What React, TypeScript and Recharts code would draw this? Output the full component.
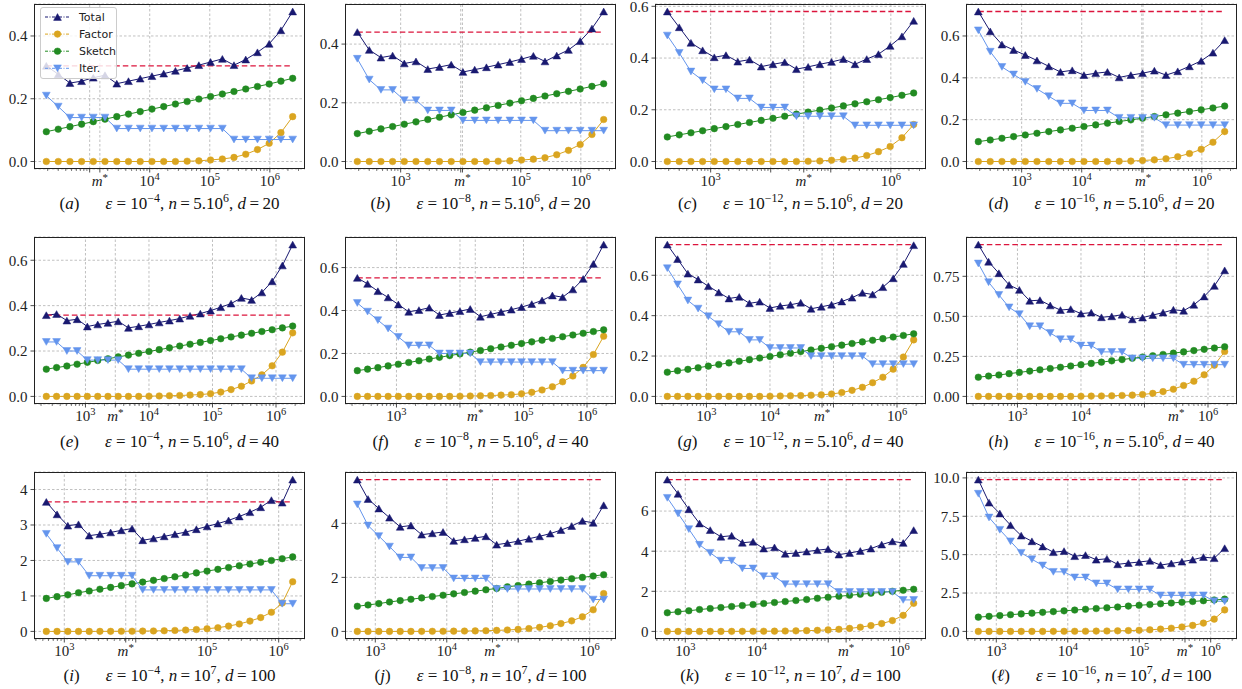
import React from 'react';
import { LineChart, Line, XAxis, YAxis, CartesianGrid, ReferenceLine } from 'recharts';

// sample sizes m on the x axis, one list per row of panels
const mRow1 = [190, 300, 470, 735, 1150, 1800, 2830, 4430, 6950, 10900, 17100, 26800, 42000, 65800, 103000, 162000, 253000, 397000, 622000, 975000, 1530000, 2400000];
const mRow2 = [242, 351, 510, 739, 1070, 1560, 2260, 3280, 4750, 6890, 10000, 14500, 21000, 30500, 44300, 64300, 93200, 135000, 196000, 285000, 413000, 599000, 870000, 1260000, 1830000];
const mRow3 = [560, 791, 1120, 1580, 2230, 3150, 4450, 6280, 8870, 12500, 17700, 25000, 35300, 49900, 70500, 99500, 141000, 199000, 281000, 396000, 560000, 791000, 1120000, 1570000];

// sketch / factor times are the same across a row
const sketchRow1 = [0.095, 0.103, 0.111, 0.119, 0.127, 0.135, 0.143, 0.151, 0.159, 0.167, 0.175, 0.183, 0.191, 0.199, 0.207, 0.215, 0.223, 0.231, 0.239, 0.247, 0.256, 0.265];
const factorRow1 = [0, 0, 0, 0, 0, 0, 0, 0, 0, 0, 0, 0, 0.001, 0.002, 0.005, 0.008, 0.013, 0.023, 0.038, 0.058, 0.092, 0.143];
const sketchRow2 = [0.12, 0.127, 0.134, 0.142, 0.15, 0.158, 0.166, 0.174, 0.182, 0.19, 0.198, 0.206, 0.214, 0.222, 0.23, 0.238, 0.246, 0.254, 0.262, 0.27, 0.278, 0.286, 0.294, 0.302, 0.31];
const factorRow2 = [0, 0, 0, 0, 0, 0, 0, 0, 0, 0, 0.001, 0.002, 0.003, 0.004, 0.006, 0.008, 0.012, 0.019, 0.03, 0.045, 0.068, 0.095, 0.135, 0.195, 0.28];
const sketchRow3 = [0.93, 0.98, 1.03, 1.09, 1.14, 1.19, 1.24, 1.29, 1.34, 1.39, 1.44, 1.49, 1.54, 1.59, 1.65, 1.7, 1.75, 1.8, 1.85, 1.9, 1.95, 2.0, 2.05, 2.1];
const factorRow3 = [0, 0, 0, 0, 0, 0.001, 0.002, 0.004, 0.006, 0.009, 0.013, 0.019, 0.027, 0.038, 0.053, 0.075, 0.105, 0.15, 0.21, 0.29, 0.39, 0.54, 0.8, 1.4];

// iteration / total times per panel
const iterA = [0.21, 0.175, 0.14, 0.14, 0.14, 0.14, 0.105, 0.105, 0.105, 0.105, 0.105, 0.105, 0.105, 0.105, 0.105, 0.105, 0.07, 0.07, 0.07, 0.07, 0.07, 0.07];
const totalA = [0.305, 0.278, 0.25, 0.256, 0.267, 0.275, 0.248, 0.256, 0.264, 0.272, 0.28, 0.289, 0.298, 0.307, 0.317, 0.327, 0.307, 0.325, 0.348, 0.375, 0.418, 0.478];
const iterB = [0.35, 0.279, 0.244, 0.244, 0.209, 0.209, 0.174, 0.174, 0.174, 0.14, 0.14, 0.14, 0.14, 0.14, 0.14, 0.14, 0.105, 0.105, 0.105, 0.105, 0.105, 0.105];
const totalB = [0.441, 0.38, 0.354, 0.361, 0.334, 0.341, 0.315, 0.322, 0.33, 0.305, 0.313, 0.321, 0.33, 0.339, 0.349, 0.36, 0.341, 0.361, 0.38, 0.41, 0.453, 0.511];
const iterC = [0.487, 0.42, 0.348, 0.314, 0.279, 0.279, 0.244, 0.244, 0.209, 0.209, 0.209, 0.175, 0.175, 0.175, 0.175, 0.175, 0.14, 0.14, 0.14, 0.14, 0.14, 0.14];
const totalC = [0.58, 0.519, 0.459, 0.43, 0.403, 0.411, 0.386, 0.394, 0.367, 0.376, 0.384, 0.357, 0.366, 0.376, 0.385, 0.396, 0.376, 0.396, 0.415, 0.447, 0.484, 0.544];
const iterD = [0.627, 0.525, 0.452, 0.416, 0.381, 0.347, 0.312, 0.278, 0.278, 0.244, 0.244, 0.244, 0.209, 0.209, 0.209, 0.209, 0.174, 0.174, 0.174, 0.174, 0.174, 0.174];
const totalD = [0.717, 0.622, 0.559, 0.533, 0.509, 0.483, 0.455, 0.428, 0.436, 0.413, 0.422, 0.428, 0.402, 0.413, 0.422, 0.434, 0.413, 0.431, 0.455, 0.481, 0.52, 0.58];

const iterE = [0.24, 0.24, 0.2, 0.2, 0.16, 0.16, 0.16, 0.16, 0.12, 0.12, 0.12, 0.12, 0.12, 0.12, 0.12, 0.12, 0.12, 0.12, 0.12, 0.12, 0.08, 0.08, 0.08, 0.08, 0.08];
const totalE = [0.358, 0.363, 0.334, 0.34, 0.308, 0.317, 0.324, 0.331, 0.302, 0.309, 0.317, 0.326, 0.334, 0.343, 0.355, 0.365, 0.378, 0.393, 0.409, 0.434, 0.425, 0.458, 0.507, 0.577, 0.669];
const iterF = [0.435, 0.395, 0.355, 0.316, 0.277, 0.238, 0.238, 0.238, 0.2, 0.2, 0.2, 0.2, 0.16, 0.16, 0.16, 0.16, 0.16, 0.16, 0.16, 0.16, 0.12, 0.12, 0.12, 0.12, 0.12];
const totalF = [0.552, 0.524, 0.49, 0.461, 0.428, 0.394, 0.402, 0.413, 0.379, 0.388, 0.397, 0.407, 0.371, 0.382, 0.393, 0.404, 0.416, 0.43, 0.447, 0.47, 0.462, 0.498, 0.547, 0.617, 0.707];
const iterG = [0.635, 0.555, 0.475, 0.435, 0.397, 0.358, 0.32, 0.32, 0.28, 0.28, 0.24, 0.24, 0.24, 0.24, 0.2, 0.2, 0.2, 0.2, 0.2, 0.2, 0.16, 0.16, 0.16, 0.16, 0.16];
const totalG = [0.752, 0.68, 0.608, 0.579, 0.546, 0.515, 0.485, 0.493, 0.461, 0.469, 0.438, 0.448, 0.454, 0.464, 0.434, 0.444, 0.454, 0.47, 0.489, 0.513, 0.505, 0.541, 0.585, 0.656, 0.749];
const iterH = [0.83, 0.713, 0.634, 0.556, 0.514, 0.438, 0.438, 0.396, 0.357, 0.357, 0.318, 0.318, 0.278, 0.278, 0.278, 0.238, 0.238, 0.238, 0.238, 0.238, 0.198, 0.198, 0.198, 0.198, 0.198];
const totalH = [0.948, 0.841, 0.769, 0.696, 0.665, 0.597, 0.601, 0.568, 0.539, 0.545, 0.517, 0.523, 0.494, 0.5, 0.51, 0.481, 0.492, 0.508, 0.523, 0.541, 0.535, 0.572, 0.624, 0.69, 0.787];

const iterI = [2.75, 2.35, 1.96, 1.96, 1.57, 1.57, 1.57, 1.57, 1.57, 1.17, 1.17, 1.17, 1.17, 1.17, 1.17, 1.17, 1.17, 1.17, 1.17, 1.17, 1.17, 1.17, 0.78, 0.78];
const totalI = [3.65, 3.3, 2.98, 3.02, 2.7, 2.74, 2.79, 2.85, 2.9, 2.57, 2.62, 2.68, 2.74, 2.8, 2.88, 2.96, 3.04, 3.13, 3.24, 3.36, 3.5, 3.7, 3.63, 4.28];
const iterJ = [4.7, 3.92, 3.53, 3.14, 2.74, 2.74, 2.35, 2.35, 2.35, 1.96, 1.96, 1.96, 1.96, 1.57, 1.57, 1.57, 1.57, 1.57, 1.57, 1.57, 1.57, 1.57, 1.18, 1.18];
const totalJ = [5.62, 4.9, 4.55, 4.21, 3.87, 3.92, 3.58, 3.63, 3.68, 3.35, 3.41, 3.46, 3.52, 3.21, 3.27, 3.34, 3.43, 3.52, 3.62, 3.75, 3.9, 4.09, 4.02, 4.67];
const iterK = [6.66, 5.88, 5.1, 4.32, 3.92, 3.53, 3.53, 3.14, 3.14, 2.75, 2.75, 2.36, 2.36, 2.36, 2.36, 2.36, 1.97, 1.97, 1.97, 1.97, 1.97, 1.97, 1.57, 1.57];
const totalK = [7.57, 6.86, 6.09, 5.38, 5.05, 4.72, 4.77, 4.42, 4.47, 4.13, 4.19, 3.87, 3.91, 3.98, 4.05, 4.11, 3.83, 3.91, 4.01, 4.13, 4.33, 4.49, 4.41, 5.05];
const iterL = [8.97, 7.42, 6.62, 5.87, 5.12, 4.7, 4.3, 3.88, 3.88, 3.52, 3.52, 3.13, 3.13, 2.74, 2.74, 2.74, 2.74, 2.35, 2.35, 2.35, 2.35, 2.35, 1.97, 1.96];
const totalL = [9.89, 8.39, 7.68, 6.92, 6.24, 5.87, 5.53, 5.16, 5.23, 4.9, 4.97, 4.67, 4.73, 4.37, 4.45, 4.52, 4.6, 4.32, 4.43, 4.54, 4.67, 4.84, 4.77, 5.42];

// m* tick position per panel, and decade labels that m* replaces
const mStars = [1480, 10700, 35500, 105000, 2950, 17400, 66100, 316000, 7240, 43600, 178000, 437000];
const hiddenDecades = [[1000], [10000], [10000, 100000], [100000], [], [10000], [100000], [100000], [10000], [100000], [100000], []];

const yTicksList = [
  [0, 0.2, 0.4], [0, 0.2, 0.4], [0, 0.2, 0.4, 0.6], [0, 0.2, 0.4, 0.6],
  [0, 0.2, 0.4, 0.6], [0, 0.2, 0.4, 0.6], [0, 0.2, 0.4, 0.6], [0, 0.25, 0.5, 0.75],
  [0, 1, 2, 3, 4], [0, 2, 4], [0, 2, 4, 6], [0, 2.5, 5, 7.5, 10],
];
const yDecimals = [1, 1, 1, 1, 1, 1, 1, 2, 0, 0, 0, 1];

const panelLabels = ['a', 'b', 'c', 'd', 'e', 'f', 'g', 'h', 'i', 'j', 'k', 'ℓ'];
const epsExp = ['−4', '−8', '−12', '−16'];
const nMantissa = ['5.10', '5.10', '10'];
const nExp = ['6', '6', '7'];
const dims = [20, 40, 100];

const C = {
  total: '#191970',
  factor: '#DAA520',
  sketch: '#228B22',
  iter: '#6495ED',
  ref: '#DC143C',
  grid: '#b0b0b0',
  ink: '#222',
};

const SERIF = '"Liberation Serif", "DejaVu Serif", serif';
const SANS = '"DejaVu Sans", "Liberation Sans", sans-serif';

const PLOT_LEFT = [34, 345, 655, 966];
const PLOT_TOP = [4, 237, 472];
const PLOT_HS = [165, 167, 167];
const CAPTION_BASE = [209, 447, 681];
const PLOT_W = 271;
const AXIS_W = 40;
const M_TOP = 8;
const M_RIGHT = 5;
const X_H = 26;

const rowX = [mRow1, mRow2, mRow3];
const rowSketch = [sketchRow1, sketchRow2, sketchRow3];
const rowFactor = [factorRow1, factorRow2, factorRow3];
const iters = [iterA, iterB, iterC, iterD, iterE, iterF, iterG, iterH, iterI, iterJ, iterK, iterL];
const totals = [totalA, totalB, totalC, totalD, totalE, totalF, totalG, totalH, totalI, totalJ, totalK, totalL];

const panels = panelLabels.map((label, i) => {
  const row = Math.floor(i / 4);
  return {
    label,
    row,
    col: i % 4,
    x: rowX[row],
    sketch: rowSketch[row],
    factor: rowFactor[row],
    iter: iters[i],
    total: totals[i],
    mStar: mStars[i],
    hide: hiddenDecades[i],
    yTicks: yTicksList[i],
    dec: yDecimals[i],
    eps: epsExp[i % 4],
    nMant: nMantissa[row],
    nExp: nExp[row],
    d: dims[row],
  };
});

type Shape = 'up' | 'down' | 'circle';

function Marker({ cx, cy, shape, color }: { cx?: number; cy?: number; shape: Shape; color: string }) {
  if (cx == null || cy == null || isNaN(cx) || isNaN(cy)) return null;
  if (shape === 'circle') {
    return <circle cx={cx} cy={cy} r={3.3} fill={color} stroke={color} strokeWidth={0.5} />;
  }
  const s = 3.9;
  const h = 3.4;
  const d =
    shape === 'up'
      ? `M${cx},${cy - h}L${cx + s},${cy + h}L${cx - s},${cy + h}Z`
      : `M${cx},${cy + h}L${cx + s},${cy - h}L${cx - s},${cy - h}Z`;
  return <path d={d} fill={color} stroke={color} strokeWidth={0.5} />;
}

function XTick(props: any) {
  const { x, y, payload, p } = props;
  const v = payload.value;
  const isStar = v === p.mStar;
  const e = Math.log10(v);
  const isDecade = !isStar && Math.abs(e - Math.round(e)) < 1e-6;
  const major = isStar || isDecade;
  let label = null;
  if (isStar) {
    label = (
      <text x={x} y={y + 17} textAnchor="middle" fontFamily={SERIF} fontSize={15} fill={C.ink}>
        <tspan fontStyle="italic">m</tspan>
        <tspan dy={-5} fontSize={11}>*</tspan>
      </text>
    );
  } else if (isDecade && !p.hide.includes(v)) {
    label = (
      <text x={x} y={y + 17} textAnchor="middle" fontFamily={SERIF} fontSize={15} fill={C.ink}>
        <tspan>10</tspan>
        <tspan dy={-6} fontSize={10.5}>{Math.round(e)}</tspan>
      </text>
    );
  }
  return (
    <g>
      <line x1={x} x2={x} y1={y} y2={y + (major ? 3.5 : 2)} stroke={C.ink} strokeWidth={major ? 0.8 : 0.6} />
      {label}
    </g>
  );
}

function Legend() {
  const items: { name: string; color: string; shape: Shape }[] = [
    { name: 'Total', color: C.total, shape: 'up' },
    { name: 'Factor', color: C.factor, shape: 'circle' },
    { name: 'Sketch', color: C.sketch, shape: 'circle' },
    { name: 'Iter.', color: C.iter, shape: 'down' },
  ];
  return (
    <div
      style={{
        position: 'absolute',
        left: 40,
        top: 7,
        width: 77,
        height: 72,
        background: 'rgba(255,255,255,0.82)',
        border: '1px solid #cccccc',
        borderRadius: 3,
        boxSizing: 'border-box',
      }}
    >
      <svg width={77} height={72} style={{ position: 'absolute', left: -1, top: -1 }}>
        {items.map((it, i) => {
          const cy = 10 + i * 17.1;
          return (
            <g key={it.name}>
              <line x1={5} x2={30} y1={cy} y2={cy} stroke={it.color} strokeWidth={1} strokeDasharray="3 1.5 1 1.5" />
              <Marker cx={17.5} cy={cy} shape={it.shape} color={it.color} />
              <text x={39} y={cy + 3.8} fontFamily={SANS} fontSize={11} fill={C.ink}>
                {it.name}
              </text>
            </g>
          );
        })}
      </svg>
    </div>
  );
}

const supStyle = { fontSize: '0.7em', verticalAlign: '0.55em', lineHeight: 0 };

function Panel({ p }: { p: any }) {
  const left = PLOT_LEFT[p.col];
  const top = PLOT_TOP[p.row];
  const plotH = PLOT_HS[p.row];
  const data = p.x.map((x: number, i: number) => ({
    x,
    total: p.total[i],
    factor: p.factor[i],
    sketch: p.sketch[i],
    iter: p.iter[i],
    base: p.total[0],
  }));

  const lx0 = Math.log10(p.x[0]);
  const lx1 = Math.log10(p.x[p.x.length - 1]);
  const xPad = (lx1 - lx0) * 0.05;
  const xDom = [Math.pow(10, lx0 - xPad), Math.pow(10, lx1 + xPad)];

  const all = [...p.total, ...p.iter, ...p.sketch, ...p.factor];
  const yMax = Math.max(...all);
  const yMin = Math.min(...all);
  const yPad = (yMax - yMin) * 0.05;
  const yDom = [yMin - yPad, yMax + yPad];

  const decades = [100, 1000, 10000, 100000, 1000000, 10000000].filter((v) => v >= xDom[0] && v <= xDom[1]);
  const minors: number[] = [];
  [100, 1000, 10000, 100000, 1000000].forEach((base) => {
    [2, 3, 4, 5, 6, 7, 8, 9].forEach((k) => {
      const v = k * base;
      if (v >= xDom[0] && v <= xDom[1]) minors.push(v);
    });
  });
  const majors = [...decades, p.mStar];
  const ticks = [...majors, ...minors].sort((a, b) => a - b);

  const lineProps = { isAnimationActive: false, strokeWidth: 1 };

  return (
    <>
      <div style={{ position: 'absolute', left: left - AXIS_W, top: top - M_TOP }}>
        <LineChart
          width={AXIS_W + PLOT_W + M_RIGHT}
          height={M_TOP + plotH + X_H}
          data={data}
          margin={{ top: M_TOP, right: M_RIGHT, left: 0, bottom: 0 }}
        >
          <CartesianGrid vertical={false} stroke={C.grid} strokeDasharray="2.5 2" strokeWidth={0.8} />
          {majors.map((v) => (
            <ReferenceLine key={`g${v}`} x={v} stroke={C.grid} strokeDasharray="2.5 2" strokeWidth={0.8} />
          ))}
          <XAxis
            dataKey="x"
            type="number"
            scale="log"
            domain={xDom}
            allowDataOverflow
            ticks={ticks}
            interval={0}
            tickLine={false}
            axisLine={false}
            tickSize={0}
            tickMargin={0}
            height={X_H}
            tick={(tp: any) => <XTick {...tp} p={p} />}
          />
          <YAxis
            type="number"
            domain={yDom}
            allowDataOverflow
            ticks={p.yTicks}
            interval={0}
            width={AXIS_W}
            tickSize={3.5}
            tickMargin={3}
            axisLine={false}
            tickLine={{ stroke: C.ink, strokeWidth: 0.8 }}
            tickFormatter={(v: number) => v.toFixed(p.dec)}
            tick={{ fontFamily: SERIF, fontSize: 15, fill: C.ink }}
          />
          <Line
            dataKey="total"
            stroke={C.total}
            {...lineProps}
            dot={(d: any) => <Marker key={`t${d.index}`} cx={d.cx} cy={d.cy} shape="up" color={C.total} />}
          />
          <Line
            dataKey="factor"
            stroke={C.factor}
            {...lineProps}
            dot={(d: any) => <Marker key={`f${d.index}`} cx={d.cx} cy={d.cy} shape="circle" color={C.factor} />}
          />
          <Line
            dataKey="sketch"
            stroke={C.sketch}
            {...lineProps}
            dot={(d: any) => <Marker key={`s${d.index}`} cx={d.cx} cy={d.cy} shape="circle" color={C.sketch} />}
          />
          <Line
            dataKey="iter"
            stroke={C.iter}
            {...lineProps}
            dot={(d: any) => <Marker key={`i${d.index}`} cx={d.cx} cy={d.cy} shape="down" color={C.iter} />}
          />
          <Line dataKey="base" stroke={C.ref} strokeWidth={1.3} strokeDasharray="5.5 3" dot={false} isAnimationActive={false} />
        </LineChart>
      </div>
      <div
        style={{
          position: 'absolute',
          left,
          top,
          width: PLOT_W,
          height: plotH,
          border: `1px solid ${C.ink}`,
          boxSizing: 'border-box',
          pointerEvents: 'none',
        }}
      />
      {p.label === 'a' && <Legend />}
      <div
        style={{
          position: 'absolute',
          left: left - 20,
          width: PLOT_W + 40,
          top: CAPTION_BASE[p.row] - 14,
          textAlign: 'center',
          fontFamily: SERIF,
          fontSize: 17,
          lineHeight: '17px',
          whiteSpace: 'nowrap',
          color: '#111',
        }}
      >
        (<i>{p.label}</i>)
        <span style={{ display: 'inline-block', width: 26 }} />
        <i>ε</i> = 10<sup style={supStyle}>{p.eps}</sup>,{' '}
        <i>n</i>&#8201;=&#8201;{p.nMant}
        <sup style={supStyle}>{p.nExp}</sup>, <i>d</i>&#8201;=&#8201;{p.d}
      </div>
    </>
  );
}

export default function App() {
  return (
    <div
      style={{
        position: 'absolute',
        left: 0,
        top: 0,
        width: 1242,
        height: 689,
        background: '#ffffff',
        overflow: 'hidden',
      }}
    >
      {panels.map((p) => (
        <Panel key={p.label} p={p} />
      ))}
    </div>
  );
}
